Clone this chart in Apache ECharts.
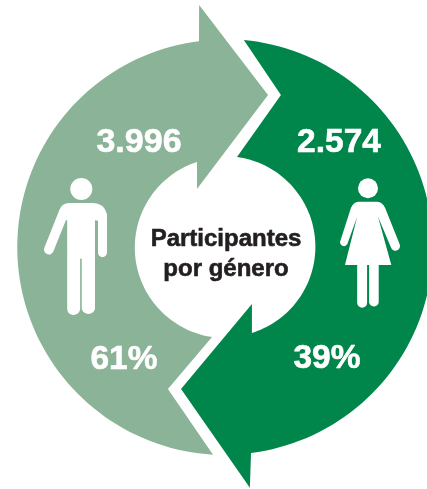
<!DOCTYPE html>
<html lang="es">
<head>
    <meta charset="UTF-8">
    <title>Participantes por género</title>
    <script src="https://cdn.jsdelivr.net/npm/echarts/dist/echarts.min.js"></script>
    <style>
        html, body { margin: 0; padding: 0; background: #fff; }
        #main { width: 427px; height: 489px; }
    </style>
</head>
<body>
    <div id="main"></div>
    <script>
        var generos = ['Hombres', 'Mujeres'];
        var participantes = ['3.996', '2.574'];
        var porcentajes = ['61%', '39%'];

        var colores = ['#8ab397', '#00854a'];
        var fuente = '"Liberation Sans", Arial, sans-serif';

        // contorno de cada flecha en coordenadas polares [radio, angulo]
        // cola exterior -> arco exterior -> punta -> arco interior -> cola
        var flechas = [
            {
                arcoExt: [[208, 183.3], [207.5, 352.8]],
                punta: [[243.4, 353.9], [158, 15.8], [64.4, 334.2]],
                arcoInt: [[89.5, 341.8], [91, 188.2]],
                muesca: [153, 201.9]
            },
            {
                arcoExt: [[207.8, 5.2], [207.6, 172.8]],
                punta: [[242, 174.1], [148.7, 197.2], [63, 154.7]],
                arcoInt: [[90, 162.6], [90.8, 7.6]],
                muesca: [162, 20.2]
            }
        ];

        function puntosArco(arco, api) {
            var pts = [];
            var a0 = arco[0][1], a1 = arco[1][1];
            var n = Math.ceil(Math.abs(a1 - a0) / 2);
            for (var i = 0; i <= n; i++) {
                var t = i / n;
                pts.push(api.coord([arco[0][0] + (arco[1][0] - arco[0][0]) * t, a0 + (a1 - a0) * t]));
            }
            return pts;
        }

        function dibujarFlecha(params, api) {
            var f = flechas[params.dataIndex];
            var pts = puntosArco(f.arcoExt, api);
            f.punta.forEach(function (p) {
                pts.push(api.coord(p));
            });
            pts = pts.concat(puntosArco(f.arcoInt, api));
            pts.push(api.coord(f.muesca));
            return {
                type: 'polygon',
                shape: { points: pts },
                style: { fill: colores[params.dataIndex] }
            };
        }

        var hombre = 'M69.5 203 L93 203 Q104 203 107 214 L107 252 A4.5 4.5 0 0 1 98 252 L98 221 Q98 220 95 220 ' +
            'L95 308 A7 7 0 0 1 81.8 308 L81.8 258 L80.2 258 L80.2 308 A6.5 6.5 0 0 1 67.3 308 L67.3 220 L66 220 ' +
            'L53.5 251 A4.8 4.8 0 0 1 44.6 247 L59.5 210 Q62 203 69.5 203 Z';
        var mujer = 'M358.5 201.7 L377.5 201.7 Q383 202 385.5 208 L400 244 A4.6 4.6 0 0 1 391.6 248 L378.3 216.7 ' +
            'L391.7 265 L379 265 L379 302.5 A5 5 0 0 1 369.3 302.5 L369.3 265 L367.3 265 L367.3 302.5 A5 5 0 0 1 357.3 302.5 ' +
            'L357.3 265 L345 265 L357.3 216.7 L347.4 244 A4 4 0 0 1 340 242 L351 208 Q353.5 202 358.5 201.7 Z';

        function dibujarIconos() {
            return {
                type: 'group',
                children: [
                    { type: 'circle', shape: { cx: 81.3, cy: 189, r: 11 }, style: { fill: '#fff' } },
                    { type: 'path', shape: { pathData: hombre, x: 44, y: 203, width: 63, height: 112, layout: 'cover' }, style: { fill: '#fff' } },
                    { type: 'circle', shape: { cx: 368, cy: 188.3, r: 10 }, style: { fill: '#fff' } },
                    { type: 'path', shape: { pathData: mujer, x: 340, y: 201.7, width: 60, height: 106, layout: 'cover' }, style: { fill: '#fff' } }
                ]
            };
        }

        function texto(x, y, t, tam, color) {
            return {
                type: 'text',
                x: x,
                y: y,
                silent: true,
                z: 10,
                style: {
                    text: t,
                    fill: color,
                    stroke: color,
                    lineWidth: 0.6,
                    font: 'bold ' + tam + 'px ' + fuente,
                    textAlign: 'center',
                    textVerticalAlign: 'middle'
                }
            };
        }

        var myChart = echarts.init(document.getElementById('main'));
        myChart.setOption({
            animation: false,
            polar: { center: [225, 247], radius: 250 },
            angleAxis: { type: 'value', min: 0, max: 360, startAngle: 90, clockwise: true, show: false },
            radiusAxis: { type: 'value', min: 0, max: 250, show: false },
            series: [{
                type: 'custom',
                coordinateSystem: 'polar',
                clip: false,
                renderItem: dibujarFlecha,
                data: generos.map(function (g, i) {
                    return { name: g, value: [parseFloat(porcentajes[i]), i] };
                })
            }, {
                type: 'custom',
                coordinateSystem: 'none',
                z: 5,
                renderItem: dibujarIconos,
                data: [0]
            }],
            graphic: [
                texto(139, 143, participantes[0], 34, '#fff'),
                texto(339, 143, participantes[1], 33.5, '#fff'),
                texto(124, 360, porcentajes[0], 33.5, '#fff'),
                texto(327, 359, porcentajes[1], 33.5, '#fff'),
                texto(226, 239, 'Participantes', 24, '#231f20'),
                texto(226, 269, 'por género', 24, '#231f20')
            ]
        });
    </script>
</body>
</html>
